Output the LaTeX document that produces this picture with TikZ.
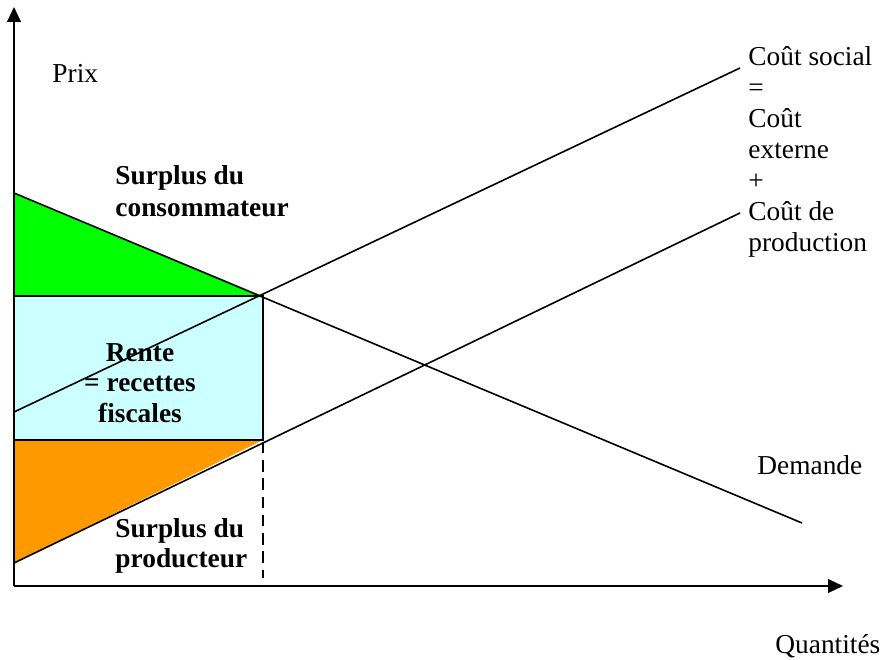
\documentclass[tikz,border=0pt]{standalone}
\usepackage{fontspec}
\setmainfont{Liberation Serif}
\usetikzlibrary{arrows.meta}
\definecolor{cgreen}{HTML}{00FF00}
\definecolor{ccyan}{HTML}{CCFFFF}
\definecolor{corange}{HTML}{FF9900}
\begin{document}
\begin{tikzpicture}[x=0.4386pt,y=-0.4386pt,
  axis/.style={line width=0.7pt,-{Triangle[length=6.5pt,width=6pt]}},
  curve/.style={line width=0.7pt},
  lbl/.style={inner sep=0pt,font=\fontsize{12}{13.6}\selectfont},
  blbl/.style={inner sep=0pt,font=\fontsize{12}{14}\selectfont\bfseries}]
\useasboundingbox (0,0) rectangle (883,659);
% key points
\coordinate (O) at (14,586);
\coordinate (ytop) at (14,7);
\coordinate (xend) at (843,586);
\coordinate (D0) at (14,193);
\coordinate (E) at (263,296);
\coordinate (D1) at (802,523);
\coordinate (S0) at (14,412);
\coordinate (S1) at (740,68);
\coordinate (P0) at (14,563);
\coordinate (F) at (263,440);
\coordinate (P1) at (740,213);
\coordinate (A) at (14,296);
\coordinate (B) at (14,440);
\coordinate (Q) at (263,578);
% areas
\fill[cgreen] (D0) -- (E) -- (A) -- cycle;
\fill[ccyan] (A) rectangle (F);
\fill[corange] (B) -- (F) -- (P0) -- cycle;
\draw[curve] (A) -- (E) -- (F) -- (B);
% dashed quantity
\draw[curve,dashed,dash pattern=on 5pt off 3pt] (E) -- (Q);
% curves
\draw[curve] (D0) -- (D1);
\draw[curve] (S0) -- (S1);
\draw[curve] (P0) -- (P1);
% axes
\draw[axis] (O) -- (ytop);
\draw[axis] (O) -- (xend);
% labels
\node[lbl,anchor=base west] (prix) at (52,82) {Prix};
\node[lbl,anchor=base west] (quant) at (775,653) {Quantités};
\node[lbl,anchor=base west] (dem) at (757,474) {Demande};
\node[lbl,anchor=north west,align=left] (cout) at (748,46) {Coût social\\=\\Coût\\externe\\+\\Coût de\\production};
\node[blbl,anchor=north west,align=left] (sc) at (115,165) {Surplus du\\consommateur};
\node[blbl,anchor=north,align=center,font=\fontsize{12}{13.4}\selectfont\bfseries] (rente) at (140,343) {Rente\\= recettes\\fiscales};
\node[blbl,anchor=north west,align=left,font=\fontsize{12}{13.2}\selectfont\bfseries] (sp) at (115,518) {Surplus du\\producteur};
\end{tikzpicture}
\end{document}
